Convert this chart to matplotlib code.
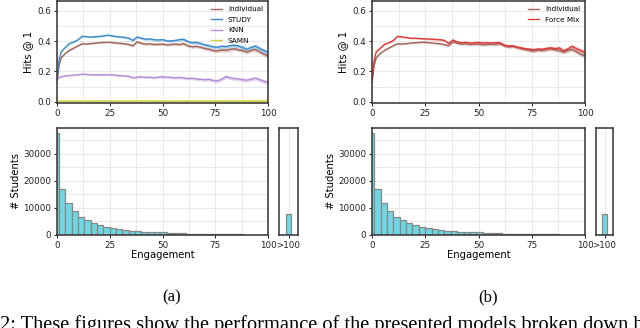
import matplotlib
matplotlib.use("Agg")
import matplotlib.pyplot as plt
from matplotlib.ticker import MultipleLocator
import numpy as np

# ---------------- data ----------------
engagement = [0, 1, 2, 4, 6, 8, 10, 12, 14, 16, 18, 20, 22, 24, 26, 28, 30, 32, 34, 36,
              38, 40, 42, 44, 46, 48, 50, 52, 54, 56, 58, 60, 62, 64, 66, 68, 70, 72, 74,
              76, 78, 80, 82, 84, 86, 88, 90, 92, 94, 96, 98, 100]

individual = [0.13, 0.24, 0.29, 0.32, 0.34, 0.355, 0.37, 0.383, 0.381, 0.384, 0.387, 0.39,
              0.392, 0.393, 0.392, 0.388, 0.386, 0.383, 0.378, 0.37, 0.396, 0.386, 0.381,
              0.383, 0.378, 0.38, 0.381, 0.376, 0.378, 0.381, 0.378, 0.384, 0.37, 0.363,
              0.366, 0.36, 0.352, 0.347, 0.338, 0.336, 0.342, 0.34, 0.346, 0.35, 0.343,
              0.338, 0.328, 0.34, 0.345, 0.33, 0.315, 0.302]

study = [0.14, 0.28, 0.33, 0.36, 0.385, 0.395, 0.41, 0.433, 0.43, 0.427, 0.429, 0.432,
         0.435, 0.44, 0.436, 0.431, 0.428, 0.425, 0.42, 0.405, 0.428, 0.42, 0.413, 0.415,
         0.41, 0.408, 0.41, 0.403, 0.401, 0.405, 0.41, 0.412, 0.398, 0.39, 0.392, 0.385,
         0.376, 0.37, 0.362, 0.36, 0.366, 0.364, 0.37, 0.373, 0.368, 0.358, 0.347, 0.358,
         0.368, 0.352, 0.338, 0.326]

knn = [0.143, 0.16, 0.165, 0.17, 0.173, 0.175, 0.178, 0.182, 0.18, 0.178, 0.177, 0.178,
       0.177, 0.179, 0.177, 0.175, 0.172, 0.17, 0.168, 0.157, 0.162, 0.164, 0.16, 0.162,
       0.158, 0.162, 0.165, 0.162, 0.16, 0.158, 0.16, 0.158, 0.152, 0.155, 0.15, 0.148,
       0.145, 0.148, 0.14, 0.137, 0.148, 0.165, 0.158, 0.152, 0.15, 0.145, 0.142, 0.148,
       0.155, 0.145, 0.135, 0.126]

samn = [0.004, 0.004, 0.004, 0.004, 0.004, 0.004, 0.004, 0.004, 0.004, 0.004, 0.004, 0.004,
        0.004, 0.004, 0.004, 0.004, 0.004, 0.004, 0.004, 0.004, 0.004, 0.004, 0.004, 0.004,
        0.004, 0.004, 0.003, 0.003, 0.003, 0.003, 0.003, 0.003, 0.003, 0.003, 0.003, 0.003,
        0.003, 0.003, 0.003, 0.003, 0.003, 0.003, 0.003, 0.003, 0.003, 0.003, 0.003, 0.003,
        0.003, 0.003, 0.003, 0.003]

force_mix = [0.13, 0.27, 0.33, 0.355, 0.38, 0.39, 0.405, 0.432, 0.428, 0.425, 0.42, 0.42,
             0.418, 0.416, 0.415, 0.413, 0.412, 0.41, 0.405, 0.385, 0.408, 0.395, 0.39,
             0.392, 0.388, 0.39, 0.392, 0.388, 0.39, 0.388, 0.39, 0.39, 0.375, 0.368,
             0.37, 0.362, 0.355, 0.35, 0.347, 0.343, 0.348, 0.346, 0.352, 0.356, 0.35,
             0.355, 0.336, 0.35, 0.366, 0.35, 0.338, 0.325]

ci = [0.004, 0.004, 0.004, 0.004, 0.004, 0.005, 0.005, 0.005, 0.005, 0.005, 0.005, 0.006,
      0.006, 0.006, 0.006, 0.006, 0.007, 0.007, 0.007, 0.007, 0.007, 0.008, 0.008, 0.008,
      0.008, 0.008, 0.009, 0.009, 0.009, 0.009, 0.009, 0.010, 0.010, 0.010, 0.010, 0.010,
      0.011, 0.011, 0.011, 0.011, 0.012, 0.012, 0.012, 0.012, 0.012, 0.013, 0.013, 0.013,
      0.013, 0.014, 0.014, 0.014]

hist_counts = [37800, 17100, 11800, 8700, 6700, 5400, 4400, 3600, 3000, 2600, 2200, 1900,
               1650, 1450, 1250, 1100, 1000, 950, 800, 700, 600, 530, 470, 410, 360, 320,
               290, 260, 230, 200, 180, 160, 140, 120]
hist_edges = list(range(-2, 101, 3))
over100_count = 7800
over100_label = ">100"

caption = 'Figure 2: These figures show the performance of the presented models broken down by engagement'

# ---------------- style ----------------
plt.rcParams['font.family'] = ['DejaVu Sans']
W, H = 640, 328
fig = plt.figure(figsize=(W / 100, H / 100), dpi=100)

def rect(x0, y0, x1, y1):
    return [x0 / W, 1 - y1 / H, (x1 - x0) / W, (y1 - y0) / H]

spine_col = '#333333'
grid_col = '#e6e6e6'
bar_col = '#6fd6e3'
bar_edge = '#888888'

def style(ax):
    for s in ax.spines.values():
        s.set_color(spine_col)
        s.set_linewidth(1.1)
    ax.tick_params(labelsize=6.3, length=2.5, width=0.7, pad=1.5, colors='#222222')
    ax.grid(True, which='both', color=grid_col, linewidth=0.6)
    ax.set_axisbelow(True)

colors = {
    'Individual': '#a0665c',
    'STUDY': '#3a8cc8',
    'KNN': '#b58fd6',
    'SAMN': '#cdd03a',
    'Force Mix': '#e03a3a',
}

def line_panel(ax, series):
    x = np.array(engagement)
    err = np.array(ci)
    for name, vals in series:
        v = np.array(vals)
        c = colors[name]
        ax.fill_between(x, v - err, v + err, color=c, alpha=0.35, linewidth=0)
        ax.plot(x, v, color=c, linewidth=1.0, label=name)
    style(ax)
    ax.set_xlim(0, 100)
    ax.set_ylim(-0.009, 0.666)
    ax.xaxis.set_major_locator(MultipleLocator(25))
    ax.xaxis.set_minor_locator(MultipleLocator(12.5))
    ax.yaxis.set_major_locator(MultipleLocator(0.2))
    ax.yaxis.set_minor_locator(MultipleLocator(0.1))
    ax.tick_params(which='minor', length=0)
    ax.set_ylabel('Hits @ 1', fontsize=7.2, labelpad=3)
    leg = ax.legend(loc='upper right', fontsize=5.2, frameon=False, handlelength=1.5,
                    handletextpad=0.8, labelspacing=0.62, borderaxespad=0.3,
                    bbox_to_anchor=(1.0, 1.0))
    for h in leg.get_lines():
        h.set_linewidth(1.0)

def hist_panel(ax, ax2):
    ax.hist(hist_edges[:-1], bins=hist_edges, weights=hist_counts,
            color=bar_col, edgecolor=bar_edge, linewidth=0.9)
    style(ax)
    ax.set_xlim(0, 100)
    ax.set_ylim(0, 39600)
    ax.xaxis.set_major_locator(MultipleLocator(25))
    ax.xaxis.set_minor_locator(MultipleLocator(12.5))
    ax.yaxis.set_major_locator(MultipleLocator(10000))
    ax.yaxis.set_minor_locator(MultipleLocator(5000))
    ax.tick_params(which='minor', length=0)
    ax.set_xlabel('Engagement', fontsize=7.2, labelpad=0)
    ax.set_ylabel('# Students', fontsize=7.2, labelpad=2)

    ax2.bar([0], [over100_count], width=0.3, color=bar_col, edgecolor=bar_edge, linewidth=0.9)
    style(ax2)
    ax2.set_xlim(-0.5, 0.5)
    ax2.set_ylim(0, 39600)
    ax2.set_xticks([0])
    ax2.set_xticklabels([over100_label])
    ax2.set_yticks([])
    ax2.grid(True, axis='x')
    ax2.grid(False, axis='y')

# left column
ax_tl = fig.add_axes(rect(57, 1, 268, 103))
line_panel(ax_tl, [('Individual', individual), ('STUDY', study), ('KNN', knn), ('SAMN', samn)])
ax_bl = fig.add_axes(rect(57, 128, 268, 235))
ax_bl2 = fig.add_axes(rect(279, 128, 298, 235))
hist_panel(ax_bl, ax_bl2)

# right column
ax_tr = fig.add_axes(rect(372, 1, 585, 103))
line_panel(ax_tr, [('Individual', individual), ('Force Mix', force_mix)])
ax_br = fig.add_axes(rect(372, 128, 585, 235))
ax_br2 = fig.add_axes(rect(596, 128, 613, 235))
hist_panel(ax_br, ax_br2)

# sub-captions and the (cropped) figure caption
serif = ['Liberation Serif', 'DejaVu Serif']
fig.text(172 / W, 1 - 297 / H, '(a)', ha='center', va='center', fontsize=12, family=serif)
fig.text(488 / W, 1 - 297 / H, '(b)', ha='center', va='center', fontsize=12, family=serif)
fig.text(-58 / W, 1 - 330 / H, caption, ha='left', va='baseline', fontsize=14.7, family=serif)

fig.savefig('out.png', dpi=100)
